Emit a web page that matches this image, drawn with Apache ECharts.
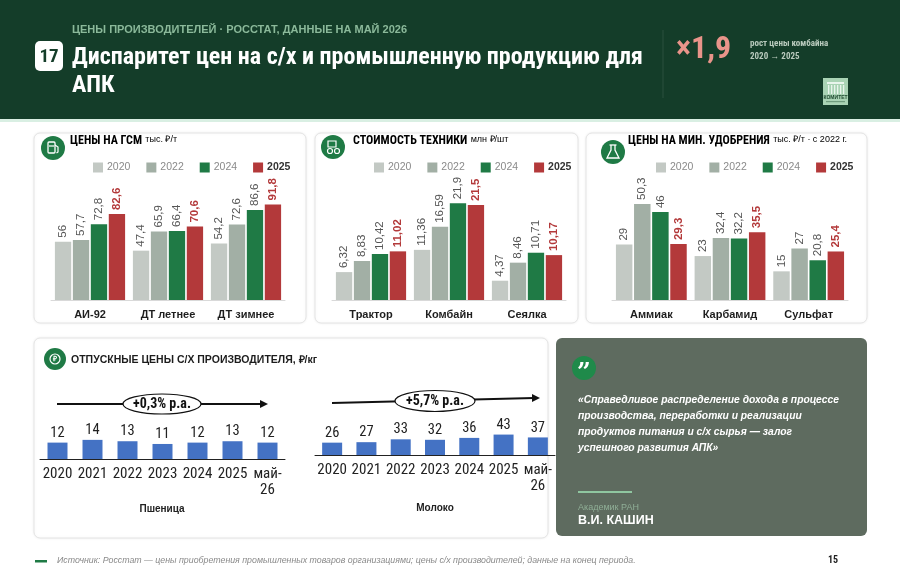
<!DOCTYPE html>
<html><head><meta charset="utf-8">
<script src="https://cdn.jsdelivr.net/npm/echarts@6/dist/echarts.min.js"></script>
<style>html,body{margin:0;padding:0;background:#fff}#c{width:900px;height:580px}</style>
</head><body><div id="c"></div>
<script>
// ---- data ----
const years = ['2020', '2022', '2024', '2025'];
const gsmCats = ['АИ-92', 'ДТ летнее', 'ДТ зимнее'];
const gsm2020 = [56, 47.4, 54.2];
const gsm2022 = [57.7, 65.9, 72.6];
const gsm2024 = [72.8, 66.4, 86.6];
const gsm2025 = [82.6, 70.6, 91.8];
const techCats = ['Трактор', 'Комбайн', 'Сеялка'];
const tech2020 = [6.32, 11.36, 4.37];
const tech2022 = [8.83, 16.59, 8.46];
const tech2024 = [10.42, 21.9, 10.71];
const tech2025 = [11.02, 21.5, 10.17];
const fertCats = ['Аммиак', 'Карбамид', 'Сульфат'];
const fert2020 = [29, 23, 15];
const fert2022 = [50.3, 32.4, 27];
const fert2024 = [46, 32.2, 20.8];
const fert2025 = [29.3, 35.5, 25.4];
const prodCats = ['2020', '2021', '2022', '2023', '2024', '2025', 'май-\n26'];
const wheat = [12, 14, 13, 11, 12, 13, 12];
const milk = [26, 27, 33, 32, 36, 43, 37];

// ---- styles ----
const NARROW = "'Liberation Sans Narrow','Arial Narrow','Roboto Condensed','Liberation Sans'";
const SANS = "'Liberation Sans',Arial,sans-serif";
const colors = {'2020': '#c3c9c4', '2022': '#a2afa5', '2024': '#1f7a45', '2025': '#b3393a'};
const fmt = v => String(v).replace('.', ',');

const chart = echarts.init(document.getElementById('c'), null, {renderer: 'canvas'});

const panels = [
  {cats: gsmCats, data: [gsm2020, gsm2022, gsm2024, gsm2025], left: 51, width: 234, max: 123, legendLeft: 88},
  {cats: techCats, data: [tech2020, tech2022, tech2024, tech2025], left: 332, width: 234, max: 29, legendLeft: 369},
  {cats: fertCats, data: [fert2020, fert2022, fert2024, fert2025], left: 612, width: 236, max: 67, legendLeft: 651}
];

const grid = [], xAxis = [], yAxis = [], series = [], legend = [];
panels.forEach((p, i) => {
  grid.push({left: p.left, width: p.width, top: 172, height: 128});
  xAxis.push({type: 'category', gridIndex: i, data: p.cats,
    axisLine: {lineStyle: {color: '#d9d9d9'}}, axisTick: {show: false},
    axisLabel: {fontFamily: SANS, fontWeight: 'bold', fontSize: 11, color: '#1e1e1e', margin: 9}});
  yAxis.push({type: 'value', gridIndex: i, min: 0, max: p.max, show: false, splitLine: {show: false}});
  years.forEach((y, k) => {
    const last = y === '2025';
    series.push({type: 'bar', name: y, xAxisIndex: i, yAxisIndex: i, data: p.data[k],
      barGap: '10%', barCategoryGap: '10%',
      itemStyle: {color: colors[y]},
      label: {show: true, position: 'top', rotate: 90, align: 'left', verticalAlign: 'middle', distance: 4,
        formatter: q => fmt(q.value), fontFamily: SANS, fontSize: 11.5,
        fontWeight: last ? 'bold' : 'normal', color: last ? '#b3393a' : '#555'}});
  });
  legend.push({left: p.legendLeft, top: 157, itemWidth: 10, itemHeight: 10, itemGap: 16, icon: 'rect',
    selectedMode: false, textStyle: {fontFamily: SANS, fontSize: 10.5, color: '#8a8a8a', padding: [0, 0, 0, -1]},
    data: ['2020', '2022', '2024', {name: '2025', textStyle: {fontWeight: 'bold', color: '#333'}}]});
});

// bottom charts
const bottoms = [
  {data: wheat, left: 40, width: 245, bottom: 121, height: 41, max: 30},
  {data: milk, left: 315, width: 240, bottom: 125, height: 38, max: 80}
];
bottoms.forEach((b, j) => {
  const i = 3 + j;
  grid.push({left: b.left, width: b.width, bottom: b.bottom, height: b.height});
  xAxis.push({type: 'category', gridIndex: i, data: prodCats,
    axisLine: {lineStyle: {color: '#222', width: 1}}, axisTick: {show: false},
    axisLabel: {fontFamily: NARROW, fontSize: 15, color: '#222', margin: 7, lineHeight: 16, interval: 0}});
  yAxis.push({type: 'value', gridIndex: i, min: 0, max: b.max, show: false, splitLine: {show: false}});
  series.push({type: 'bar', name: j ? 'Молоко' : 'Пшеница', xAxisIndex: i, yAxisIndex: i, data: b.data,
    barWidth: 20, itemStyle: {color: '#4472c4'},
    label: {show: true, position: 'top', distance: 2, fontFamily: NARROW, fontSize: 14.5, color: '#222'}});
});

// ---- decorations ----
const g = [];
const txt = (x, y, text, font, fill, align, extra) => g.push(Object.assign({type: 'text', silent: true,
  style: {x, y, text, font, fill, textAlign: align || 'left', textVerticalAlign: 'middle'}}, extra || {}));
// header
g.push({type: 'rect', shape: {x: 0, y: 0, width: 900, height: 119}, style: {fill: '#143d29'}, silent: true});
g.push({type: 'rect', shape: {x: 0, y: 119, width: 900, height: 3}, style: {fill: '#d9efe3'}, silent: true});
txt(72, 30, 'ЦЕНЫ ПРОИЗВОДИТЕЛЕЙ · РОССТАТ, ДАННЫЕ НА МАЙ 2026', 'bold 11px ' + SANS, '#8bb99a');
g.push({type: 'rect', shape: {x: 35, y: 41, width: 28, height: 30, r: 5}, style: {fill: '#fff'}, silent: true});
txt(49, 57, '17', 'bold 19px ' + NARROW, '#143d29', 'center');
txt(72, 58, 'Диспаритет цен на с/х и промышленную продукцию для', 'bold 24px ' + NARROW, '#ffffff');
txt(72, 86, 'АПК', 'bold 24px ' + NARROW, '#ffffff');
g.push({type: 'line', shape: {x1: 663, y1: 30, x2: 663, y2: 98}, style: {stroke: 'rgba(255,255,255,0.1)', lineWidth: 1}, silent: true});
txt(676, 50, '×1,9', 'bold 32px ' + NARROW, '#e9948a');
txt(750, 44, 'рост цены комбайна', 'bold 9px ' + NARROW, '#b9cabd');
txt(750, 57, '2020 → 2025', 'bold 9px ' + NARROW, '#b9cabd');
// logo
g.push({type: 'rect', shape: {x: 823, y: 78, width: 25, height: 27}, style: {fill: '#a9d3b4'}, silent: true});
g.push({type: 'rect', shape: {x: 827, y: 82, width: 17, height: 2}, style: {fill: '#e8f5ec'}, silent: true});
[828, 831, 834, 837, 840, 843].forEach(x => g.push({type: 'rect', shape: {x, y: 85, width: 1.3, height: 9}, style: {fill: '#e8f5ec'}, silent: true}));
txt(835.5, 98, 'КОМИТЕТ', 'bold 5px ' + SANS, '#1f4a30', 'center');
g.push({type: 'rect', shape: {x: 826, y: 101, width: 19, height: 1.2}, style: {fill: '#6f9c7d'}, silent: true});

// panels
const panel = (x, y, w, h, fill, stroke) => g.push({type: 'rect', z: -10, silent: true, shape: {x, y, width: w, height: h, r: 6},
  style: {fill, stroke: stroke || null, lineWidth: 1, shadowBlur: stroke ? 3 : 0, shadowColor: 'rgba(0,0,0,0.06)'}});
panel(34, 133, 272, 190, '#fff', '#e4e4e4');
panel(315, 133, 263, 190, '#fff', '#e4e4e4');
panel(586, 133, 281, 190, '#fff', '#e4e4e4');
panel(34, 338, 514, 200, '#fff', '#e4e4e4');
panel(556, 338, 311, 198, '#5e6b5f');

const icon = (cx, cy, r) => g.push({type: 'circle', shape: {cx, cy, r}, style: {fill: '#1f7a45'}, silent: true});
const titleRich = (x, y, t, u) => g.push({type: 'text', silent: true, style: {x, y, textVerticalAlign: 'middle',
  text: '{t|' + t + '}' + (u ? ' {u|' + u + '}' : ''),
  rich: {t: {fontFamily: NARROW, fontWeight: 'bold', fontSize: 12, color: '#1c1c1c'},
         u: {fontFamily: SANS, fontSize: 9, color: '#7a7a7a', padding: [0, 0, 2, 0]}}}});
icon(53, 148, 12); titleRich(70, 141, 'ЦЕНЫ НА ГСМ', 'тыс. ₽/т');
icon(333, 147, 12); titleRich(353, 141, 'СТОИМОСТЬ ТЕХНИКИ', 'млн ₽/шт');
icon(613, 152, 12); titleRich(628, 141, 'ЦЕНЫ НА МИН. УДОБРЕНИЯ', 'тыс. ₽/т · с 2022 г.');
icon(55, 359, 11);
g.push({type: 'text', silent: true, style: {x: 71, y: 360, textVerticalAlign: 'middle', text: 'ОТПУСКНЫЕ ЦЕНЫ С/Х ПРОИЗВОДИТЕЛЯ, ₽/кг',
  font: 'bold 10.5px ' + SANS, fill: '#1c1c1c'}});
// icon glyphs
g.push({type: 'rect', shape: {x: 48, y: 142, width: 7, height: 11, r: 1}, style: {fill: 'none', stroke: '#fff', lineWidth: 1.3}, silent: true});
g.push({type: 'line', shape: {x1: 49, y1: 146, x2: 54, y2: 146}, style: {stroke: '#fff', lineWidth: 1.2}, silent: true});
g.push({type: 'polyline', shape: {points: [[55, 145], [58, 147], [58, 152], [56.5, 153]]}, style: {stroke: '#fff', lineWidth: 1.2, fill: 'none'}, silent: true});
g.push({type: 'rect', shape: {x: 328, y: 141, width: 8, height: 6}, style: {fill: 'none', stroke: '#fff', lineWidth: 1.2}, silent: true});
g.push({type: 'circle', shape: {cx: 330, cy: 151, r: 2.5}, style: {fill: 'none', stroke: '#fff', lineWidth: 1.2}, silent: true});
g.push({type: 'circle', shape: {cx: 337, cy: 151, r: 2.5}, style: {fill: 'none', stroke: '#fff', lineWidth: 1.2}, silent: true});
g.push({type: 'polyline', shape: {points: [[611, 145], [611, 150], [607, 158], [619, 158], [615, 150], [615, 145]]}, style: {stroke: '#fff', lineWidth: 1.3, fill: 'none'}, silent: true});
g.push({type: 'line', shape: {x1: 609.5, y1: 145, x2: 616.5, y2: 145}, style: {stroke: '#fff', lineWidth: 1.3}, silent: true});
g.push({type: 'circle', shape: {cx: 55, cy: 359, r: 5}, style: {fill: 'none', stroke: '#fff', lineWidth: 1.2}, silent: true});
txt(55, 359.5, '₽', 'bold 7px ' + SANS, '#fff', 'center');

// trend arrows
const arrow = (x1, y1, x2, y2) => {
  g.push({type: 'line', shape: {x1, y1, x2: x2 - 6, y2: y2}, style: {stroke: '#111', lineWidth: 2}, silent: true});
  g.push({type: 'polygon', shape: {points: [[x2, y2], [x2 - 8, y2 - 4], [x2 - 8, y2 + 4]]}, style: {fill: '#111'}, silent: true});
};
arrow(57, 404, 268, 404);
arrow(332, 403, 540, 398);
const oval = (cx, cy, rx, ry, t) => {
  g.push({type: 'ellipse', shape: {cx, cy, rx, ry}, style: {fill: '#fff', stroke: '#111', lineWidth: 1.2}, silent: true});
  txt(cx, cy, t, 'bold 14px ' + NARROW, '#111', 'center');
};
oval(162, 404, 39, 10, '+0,3% р.а.');
oval(435, 401, 40, 10.5, '+5,7% р.а.');
txt(162, 509, 'Пшеница', 'bold 10px ' + SANS, '#222', 'center');
txt(435, 508, 'Молоко', 'bold 10px ' + SANS, '#222', 'center');

// quote
g.push({type: 'circle', shape: {cx: 584, cy: 368, r: 12}, style: {fill: '#1f8a4a'}, silent: true});
txt(584, 374, '”', 'bold 24px DejaVu Serif', '#ffffff', 'center');
const qlines = ['«Справедливое распределение дохода в процессе', 'производства, переработки и реализации',
  'продуктов питания и с/х сырья — залог', 'успешного развития АПК»'];
qlines.forEach((l, k) => txt(578, 400 + k * 16, l, 'italic bold 10.3px ' + SANS, '#ffffff'));
g.push({type: 'rect', shape: {x: 578, y: 491, width: 54, height: 2}, style: {fill: '#8fc6a0'}, silent: true});
txt(578, 508, 'Академик РАН', '9px ' + SANS, '#8fae96');
txt(578, 521, 'В.И. КАШИН', 'bold 12.5px ' + SANS, '#ffffff');

// footer
g.push({type: 'rect', shape: {x: 35, y: 560, width: 12, height: 2.5}, style: {fill: '#1f7a45'}, silent: true});
txt(57, 561, 'Источник: Росстат — цены приобретения промышленных товаров организациями; цены с/х производителей; данные на конец периода.',
  'italic 8.8px ' + SANS, '#8a8a8a');
txt(838, 560, '15', 'bold 10px ' + NARROW, '#222', 'right');

chart.setOption({
  animation: false,
  backgroundColor: '#ffffff',
  grid, xAxis, yAxis, series, legend,
  graphic: {elements: g}
});
</script></body></html>
